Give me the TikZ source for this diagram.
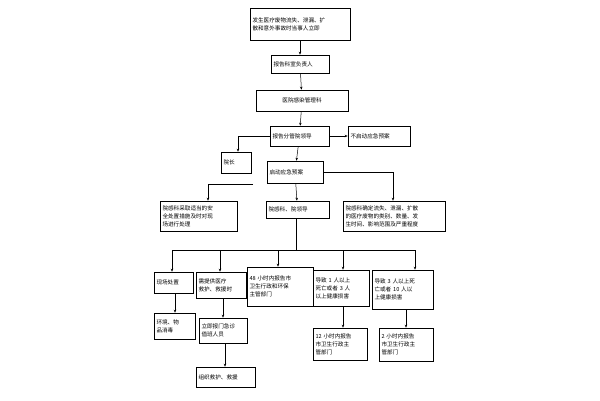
\documentclass[tikz,border=0pt]{standalone}
\usepackage{fontspec}
\setmainfont{Noto Sans CJK SC}
\usetikzlibrary{arrows.meta}
\begin{document}
\begin{tikzpicture}[x=1pt,y=-1pt,
  bx/.style={draw,line width=0.6pt,font=\fontsize{5.6}{8}\selectfont,align=left,inner sep=2pt},
  ar/.style={-{Stealth[length=3pt,width=2.5pt]},line width=0.5pt},
  ln/.style={line width=0.5pt}]
\useasboundingbox (0,0) rectangle (600,400);
\newcommand\bb[6]{\node[bx,minimum width=#4-#2,minimum height=#5-#3,text width=#4-#2-5] (#1) at ({(#2+#4)/2},{(#3+#5)/2}) {#6};}
\bb{a}{250}{8}{350}{40}{发生医疗废物流失、泄漏、扩\\散和意外事故时当事人立即}
\bb{b}{271}{55}{329}{73}{报告科室负责人}
\bb{c}{256}{90}{348}{111}{\hfil 医院感染管理科}
\bb{d}{270}{126}{329}{146}{报告分管院领导}
\bb{e}{348}{126}{410}{146}{不启动应急预案}
\bb{f}{221}{152}{251}{173}{院长}
\bb{g}{267}{161}{323}{183}{启动应急预案}
\bb{h}{160}{201}{237}{231}{院感科采取适当的安\\全处置措施及时对现\\场进行处理}
\bb{i}{266}{201}{329}{218}{院感科、院领导}
\bb{j}{343}{201}{445}{231}{院感科确定流失、泄漏、扩散\\的医疗废物的类别、数量、发\\生时间、影响范围及严重程度}
\bb{k}{154}{272}{193}{293}{现场处置}
\bb{l}{196}{272}{246}{298}{需提供医疗\\救护、救援时}
\bb{m}{247}{267}{313}{306}{48 小时内报告市\\卫生行政和环保\\主管部门}
\bb{n}{313}{270}{369}{306}{导致 1 人以上\\死亡或者 3 人\\以上健康损害}
\bb{o}{372}{270}{433}{309}{导致 3 人以上死\\亡或者 10 人以\\上健康损害}
\bb{p}{154}{313}{195}{339}{环境、物\\品消毒}
\bb{q}{199}{318}{247}{343}{立即报门急诊\\值班人员}
\bb{r}{196}{367}{255}{387}{组织救护、救援}
\bb{s}{313}{328}{367}{360}{12 小时内报告\\市卫生行政主\\管部门}
\bb{t}{379}{328}{433}{361}{2 小时内报告\\市卫生行政主\\管部门}
\draw[ar] (a) -- (b);
\draw[ar] (b) -- (c);
\draw[ar] (c) -- (d);
\draw[ar] (d) -- (e);
\draw[ar] (d.west) -| (f.north -| 238,0);
\draw[ar] (d) -- (g);
\draw[ar] (g.east) -| (j.north -| 393,0);
\coordinate (hs) at (253,184);
\draw[ar] (hs) -| (h.north -| 208,0);
\draw[ar] (g) -- (i);
\coordinate (bus) at (296,250);
\draw[ln] (i.south -| bus) -- (bus);
\draw[ln] (172,250) -- (415,250);
\draw[ar] (172,250) -- (k.north -| 172,0);
\draw[ar] (220,250) -- (l.north -| 220,0);
\draw[ar] (278,250) -- (m.north -| 278,0);
\draw[ar] (343,250) -- (n.north -| 343,0);
\draw[ar] (415,250) -- (o.north -| 415,0);
\draw[ar] (k.south -| 175,0) -- (p.north -| 175,0);
\draw[ar] (l.south -| 223,0) -- (q.north -| 223,0);
\draw[ar] (q.south -| 225,0) -- (r.north -| 225,0);
\draw[ar] (n.south -| 343,0) -- (s.north -| 343,0);
\draw[ar] (o.south -| 406,0) -- (t.north -| 406,0);
\end{tikzpicture}
\end{document}
